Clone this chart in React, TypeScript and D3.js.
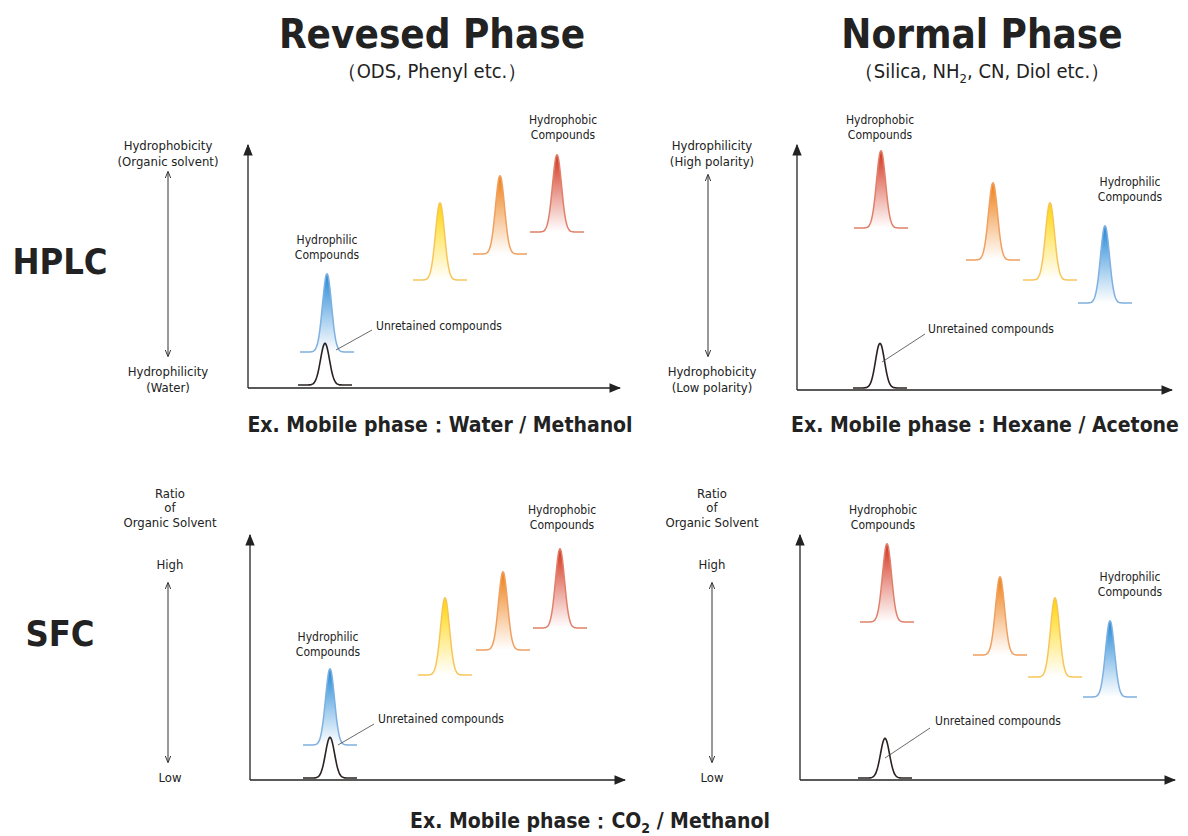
import * as d3 from "d3";

// panel frames: y-axis x, x-axis y, axis extents (pixels)
const panels = [
  { id: "hr", ox: 248, oy: 388, top: 145, right: 620 },
  { id: "hn", ox: 797, oy: 390, top: 145, right: 1172 },
  { id: "sr", ox: 250, oy: 780, top: 535, right: 625 },
  { id: "sn", ox: 800, oy: 780, top: 535, right: 1175 },
];

// peaks per panel: [offset from y-axis, baseline above x-axis, peak height, kind]
type Peak = [number, number, number, string];
const peaksHR: Peak[] = [[79, 36, 79, "blue"], [192, 108, 78, "yellow"], [252, 134, 79, "orange"], [309, 156, 78, "red"], [77, 3, 42, "black"]];
const peaksHN: Peak[] = [[84, 162, 78, "red"], [196, 130, 78, "orange"], [253, 110, 78, "yellow"], [308, 87, 78, "blue"], [83, 2, 45, "black"]];
const peaksSR: Peak[] = [[80, 35, 77, "blue"], [195, 105, 78, "yellow"], [253, 130, 79, "orange"], [310, 152, 80, "red"], [80, 2, 41, "black"]];
const peaksSN: Peak[] = [[87, 158, 79, "red"], [200, 125, 79, "orange"], [255, 103, 80, "yellow"], [310, 83, 77, "blue"], [85, 2, 40, "black"]];
const allPeaks = [peaksHR, peaksHN, peaksSR, peaksSN];

const colors: Record<string, [string, string]> = {
  blue: ["#1f86d6", "#7fb0e0"],
  yellow: ["#ffd400", "#f7c65a"],
  orange: ["#ee7d12", "#f0a060"],
  red: ["#d3301a", "#e0806a"],
};

// labels: [text, x, y, size, weight, anchor]
type Lbl = [string, number, number, number, string, string];
const labels: Lbl[] = [
  ["Revesed Phase", 432, 48, 40, "bold", "middle"],
  ["（ODS, Phenyl etc.）", 432, 78, 20, "normal", "middle"],
  ["Normal Phase", 982, 48, 40, "bold", "middle"],
  ["HPLC", 60, 274, 36, "bold", "middle"],
  ["SFC", 60, 646, 36, "bold", "middle"],
  ["Hydrophobicity", 168, 150, 13, "normal", "middle"],
  ["(Organic solvent)", 168, 166, 13, "normal", "middle"],
  ["Hydrophilicity", 168, 376, 13, "normal", "middle"],
  ["(Water)", 168, 392, 13, "normal", "middle"],
  ["Hydrophilicity", 712, 150, 13, "normal", "middle"],
  ["(High polarity)", 712, 166, 13, "normal", "middle"],
  ["Hydrophobicity", 712, 376, 13, "normal", "middle"],
  ["(Low polarity)", 712, 392, 13, "normal", "middle"],
  ["Ratio", 170, 498, 13, "normal", "middle"],
  ["of", 170, 512, 13, "normal", "middle"],
  ["Organic Solvent", 170, 527, 13, "normal", "middle"],
  ["High", 170, 569, 13, "normal", "middle"],
  ["Low", 170, 782, 13, "normal", "middle"],
  ["Ratio", 712, 498, 13, "normal", "middle"],
  ["of", 712, 512, 13, "normal", "middle"],
  ["Organic Solvent", 712, 527, 13, "normal", "middle"],
  ["High", 712, 569, 13, "normal", "middle"],
  ["Low", 712, 782, 13, "normal", "middle"],
  ["Hydrophilic", 327, 244, 12, "normal", "middle"],
  ["Compounds", 327, 259, 12, "normal", "middle"],
  ["Hydrophobic", 563, 124, 12, "normal", "middle"],
  ["Compounds", 563, 139, 12, "normal", "middle"],
  ["Unretained compounds", 376, 330, 12, "normal", "start"],
  ["Hydrophobic", 880, 124, 12, "normal", "middle"],
  ["Compounds", 880, 139, 12, "normal", "middle"],
  ["Hydrophilic", 1130, 186, 12, "normal", "middle"],
  ["Compounds", 1130, 201, 12, "normal", "middle"],
  ["Unretained compounds", 928, 333, 12, "normal", "start"],
  ["Hydrophilic", 328, 641, 12, "normal", "middle"],
  ["Compounds", 328, 656, 12, "normal", "middle"],
  ["Hydrophobic", 562, 514, 12, "normal", "middle"],
  ["Compounds", 562, 529, 12, "normal", "middle"],
  ["Unretained compounds", 378, 723, 12, "normal", "start"],
  ["Hydrophobic", 883, 514, 12, "normal", "middle"],
  ["Compounds", 883, 529, 12, "normal", "middle"],
  ["Hydrophilic", 1130, 581, 12, "normal", "middle"],
  ["Compounds", 1130, 596, 12, "normal", "middle"],
  ["Unretained compounds", 935, 725, 12, "normal", "start"],
  ["Ex. Mobile phase：Water / Methanol", 440, 432, 21, "bold", "middle"],
  ["Ex. Mobile phase : Hexane / Acetone", 985, 432, 21, "bold", "middle"],
];

// pointer lines [x1,y1,x2,y2]
const pointers = [[336, 350, 372, 330], [882, 362, 925, 334], [338, 745, 374, 724], [885, 758, 930, 728]];
// double arrows [x, y1, y2]
const dblArrows = [[168, 172, 356], [708, 175, 356], [168, 583, 762], [712, 583, 762]];

const sans = "'DejaVu Sans Condensed', 'DejaVu Sans', sans-serif";

function peakPath(h: number, sx: d3.ScaleLinear<number, number>, sy: d3.ScaleLinear<number, number>, cx: number, base: number) {
  const xs = d3.range(-27, 27.01, 1);
  return d3.line<number>()
    .x((d) => sx(cx + d))
    .y((d) => sy(base + h * Math.exp(-(d * d) / (2 * 20))))
    .curve(d3.curveBasis)(xs) || "";
}

export default function App() {
  return (
    <svg width={1188} height={836} style={{ position: "absolute", left: 0, top: 0, background: "#fff" }} fontFamily={sans}>
      <defs>
        <marker id="ah" viewBox="0 0 10 10" refX="9" refY="5" markerWidth="9" markerHeight="9" orient="auto-start-reverse">
          <path d="M0,1 L10,5 L0,9 Z" fill="#222" />
        </marker>
        <marker id="sa" viewBox="0 0 10 10" refX="9" refY="5" markerWidth="7" markerHeight="7" orient="auto-start-reverse">
          <path d="M0,1 L10,5 L0,9" fill="none" stroke="#333" strokeWidth={1.4} />
        </marker>
        {Object.entries(colors).map(([k, [c]]) => (
          <linearGradient key={k} id={"g" + k} x1="0" y1="0" x2="0" y2="1">
            <stop offset="0" stopColor={c} />
            <stop offset="1" stopColor="#fff" stopOpacity={0.9} />
          </linearGradient>
        ))}
      </defs>
      {panels.map((p, i) => {
        const sx = d3.scaleLinear().domain([0, 1]).range([p.ox, p.ox + 1]);
        const sy = d3.scaleLinear().domain([0, 1]).range([p.oy, p.oy - 1]);
        return (
          <g key={p.id}>
            <line x1={p.ox} y1={p.oy} x2={p.ox} y2={p.top} stroke="#222" strokeWidth={1.3} markerEnd="url(#ah)" />
            <line x1={p.ox} y1={p.oy} x2={p.right} y2={p.oy} stroke="#222" strokeWidth={1.3} markerEnd="url(#ah)" />
            {allPeaks[i].map(([cx, base, h, kind], j) => {
              const d = peakPath(h, sx, sy, cx, base);
              if (kind === "black")
                return <path key={j} d={d} fill="none" stroke="#2a2220" strokeWidth={1.6} />;
              return <path key={j} d={d} fill={`url(#g${kind})`} stroke={colors[kind][1]} strokeWidth={1.5} />;
            })}
          </g>
        );
      })}
      {pointers.map(([a, b, c, d], i) => (
        <line key={i} x1={a} y1={b} x2={c} y2={d} stroke="#444" strokeWidth={0.8} />
      ))}
      {dblArrows.map(([x, a, b], i) => (
        <line key={i} x1={x} y1={a} x2={x} y2={b} stroke="#333" strokeWidth={1} markerStart="url(#sa)" markerEnd="url(#sa)" />
      ))}
      {labels.map(([t, x, y, s, w, a], i) => (
        <text key={i} x={x} y={y} fontSize={s} fontWeight={w} textAnchor={a} fill="#222">{t}</text>
      ))}
      <text x={982} y={78} fontSize={20} textAnchor="middle" fill="#222">
        （Silica, NH<tspan fontSize={13} dy={5}>2</tspan><tspan dy={-5}>, CN, Diol etc.）</tspan>
      </text>
      <text x={590} y={828} fontSize={21} fontWeight="bold" textAnchor="middle" fill="#222">
        Ex. Mobile phase：CO<tspan fontSize={14} dy={5}>2</tspan><tspan dy={-5}> / Methanol</tspan>
      </text>
    </svg>
  );
}
